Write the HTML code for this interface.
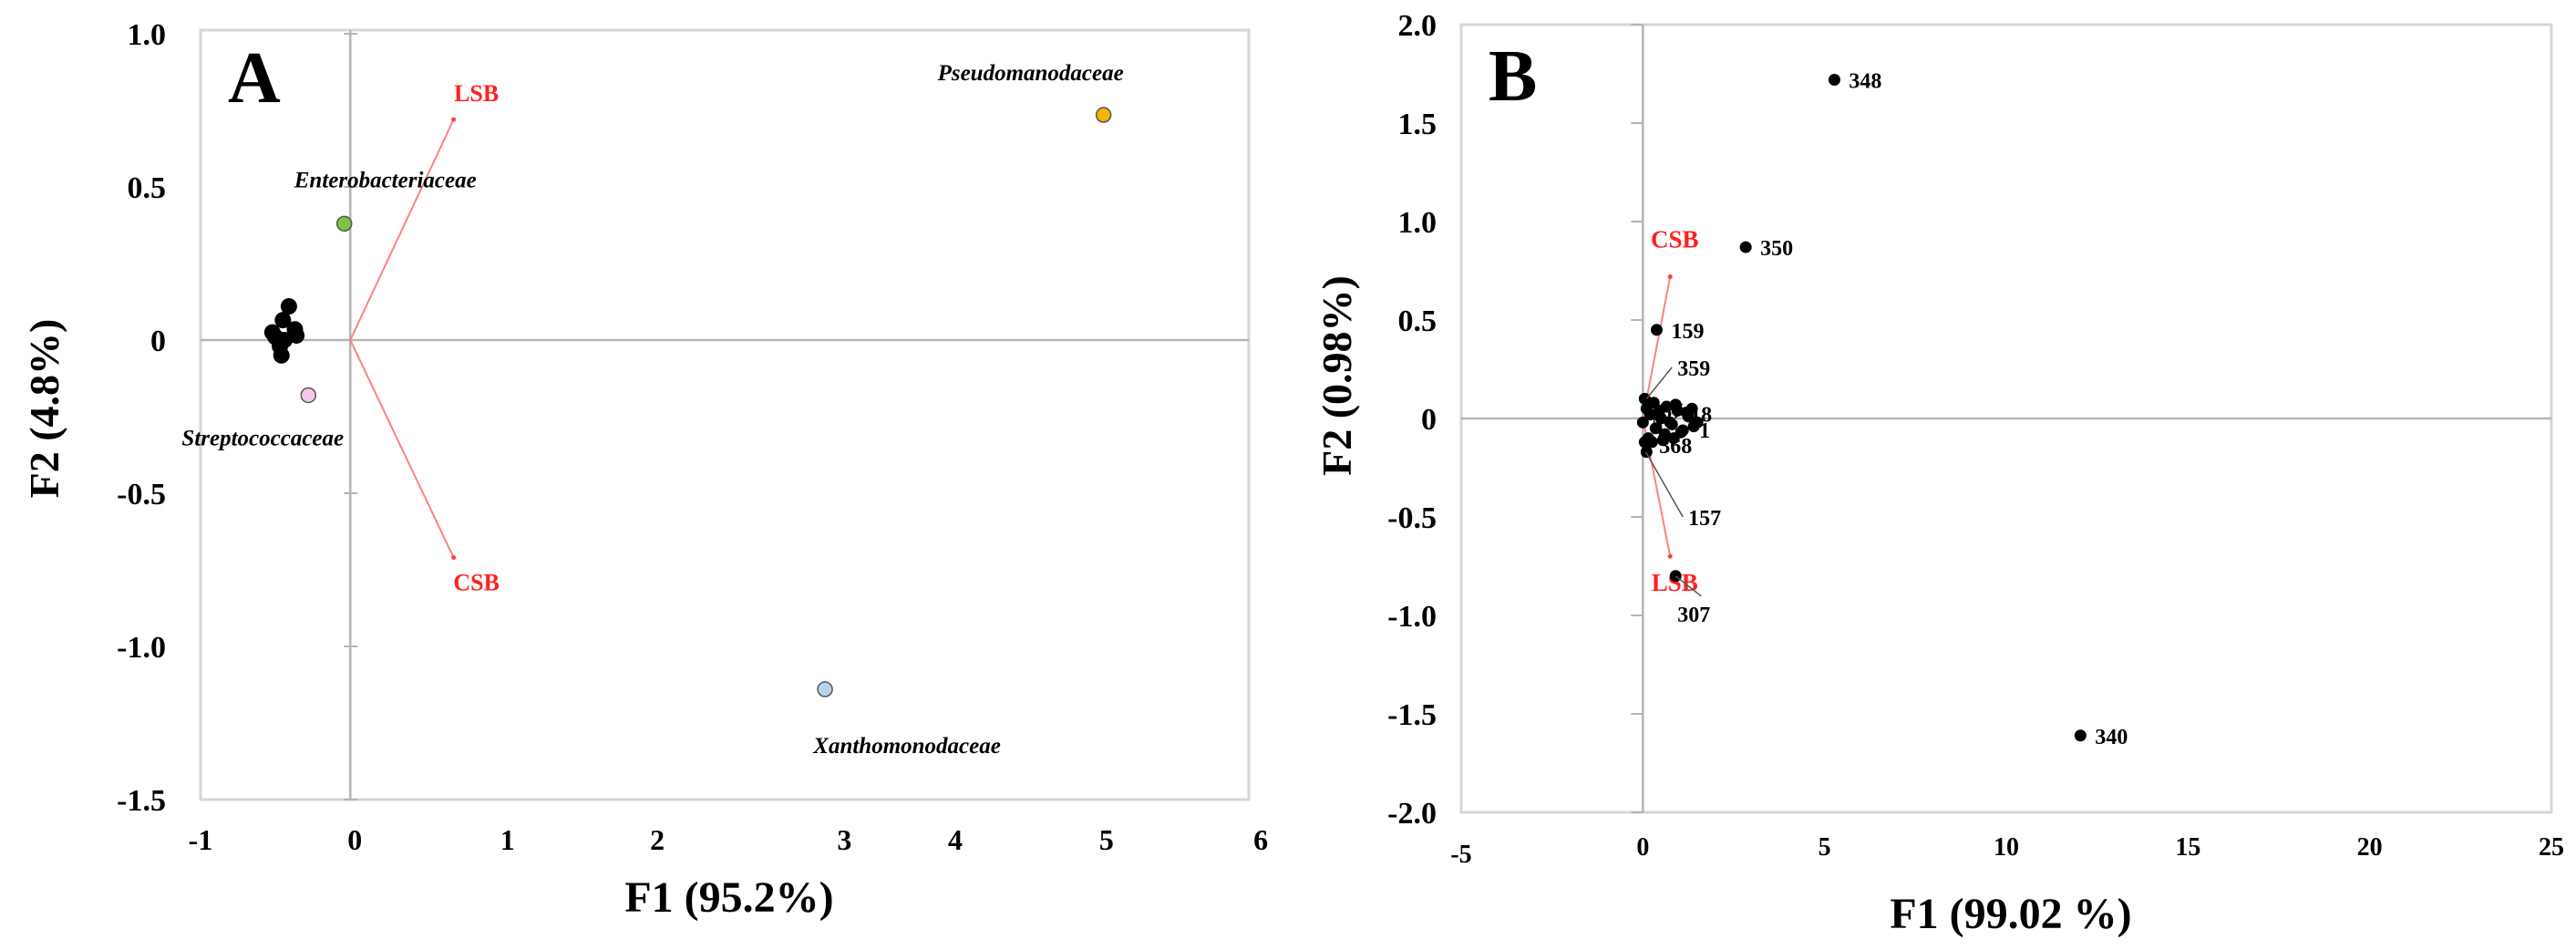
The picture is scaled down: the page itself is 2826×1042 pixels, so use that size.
<!DOCTYPE html>
<html><head><meta charset="utf-8"><style>
html,body{margin:0;padding:0;background:#fff;}
svg{display:block;font-family:"Liberation Serif",serif;}
</style></head><body>
<svg id="fig" width="2826" height="1042" viewBox="0 0 2826 1042" xmlns="http://www.w3.org/2000/svg">
<g id="pa"></g>
<g id="pb"></g>
</svg>
<script>
// ---- Panel A data ----
const aXTicks = [-1, 0, 1, 2, 3, 4, 5, 6];
const aXTickPos = [-1, 0.03, 1.05, 2.05, 3.3, 4.04, 5.05, 6.08];
const aYTicks = [1.0, 0.5, 0, -0.5, -1.0, -1.5];
const aYTickLabels = ["1.0", "0.5", "0", "-0.5", "-1.0", "-1.5"];
const aFamNames = ["Pseudomanodaceae", "Enterobacteriaceae", "Streptococcaceae", "Xanthomonodaceae"];
const aFamX = [5.03, -0.04, -0.28, 3.17];
const aFamY = [0.735, 0.38, -0.18, -1.14];
const aFamColor = ["#f5b400", "#7cc243", "#f5c8f0", "#b8d4ec"];
const aClusterX = [-0.41, -0.45, -0.37, -0.36, -0.5, -0.52, -0.46, -0.47, -0.44];
const aClusterY = [0.11, 0.065, 0.035, 0.015, 0.01, 0.025, -0.05, -0.02, 0.0];
const aVecNames = ["LSB", "CSB"];
const aVecX = [0.69, 0.69];
const aVecY = [0.72, -0.71];

// ---- Panel B data ----
const bXTicks = [-5, 0, 5, 10, 15, 20, 25];
const bYTicks = [2.0, 1.5, 1.0, 0.5, 0, -0.5, -1.0, -1.5, -2.0];
const bYTickLabels = ["2.0", "1.5", "1.0", "0.5", "0", "-0.5", "-1.0", "-1.5", "-2.0"];
const bPtNames = ["348", "350", "159", "340", "307"];
const bPtX = [5.27, 2.83, 0.38, 12.04, 0.9];
const bPtY = [1.72, 0.87, 0.45, -1.61, -0.8];
const bClusterX = [0.05, 0.1, 0.0, 0.2, 0.35, 0.5, 0.65, 0.8, 0.95, 1.1, 1.25, 1.4, 0.3, 0.6, 0.9, 1.2, 0.15, 0.45, 0.75, 1.05, 1.35, 0.05, 0.1, 0.25, 0.55, 0.85, 1.5];
const bClusterY = [0.1, 0.05, -0.02, 0.02, -0.05, 0.0, 0.06, -0.03, 0.04, -0.06, 0.01, -0.04, 0.08, -0.08, 0.07, 0.03, -0.1, 0.04, -0.02, -0.07, 0.05, -0.12, -0.17, -0.12, -0.11, -0.1, -0.02];
const bClusterLabels = ["87", "18", "368", "1", "5"];
const bClusterLabelX = [0.8, 1.6, 0.9, 1.7, 0.4];
const bClusterLabelY = [0.04, 0.02, -0.14, -0.06, -0.03];
const bLeadNames = ["359", "157"];
const bLeadFromX = [0.1, 0.08];
const bLeadFromY = [0.1, -0.17];
const bLeadToX = [0.8, 1.1];
const bLeadToY = [0.26, -0.5];
const bVecNames = ["CSB", "LSB"];
const bVecX = [0.75, 0.75];
const bVecY = [0.72, -0.70];

const NS = "http://www.w3.org/2000/svg";
function mk(parent, tag, attrs, text) {
  const e = document.createElementNS(NS, tag);
  for (const k in attrs) e.setAttribute(k, attrs[k]);
  if (text !== undefined) e.textContent = text;
  parent.appendChild(e);
  return e;
}

// ---------- Panel A ----------
(function () {
  const g = document.getElementById('pa');
  const L = 220, R = 1370, T = 37, B = 877;
  const X = v => L + (v - (-1)) / 7 * (R - L);
  const Y = v => T + (1.0 - v) / 2.5 * (B - T);
  let e;
  e = mk(g, 'rect', {x: L, y: T - 4, width: R - L, height: B - T + 4, fill: 'none', stroke: '#d6d6d6', 'stroke-width': 3});
  
  
  e = mk(g, 'line', {x1: L, x2: R, y1: Y(0), y2: Y(0), stroke: '#b4b4b4', 'stroke-width': 2.5});
  
  
  e = mk(g, 'line', {x1: X(0), x2: X(0), y1: T - 4, y2: B, stroke: '#b4b4b4', 'stroke-width': 2.5});
  
  
  aYTicks.forEach((v, i) => {
    e = mk(g, 'line', {x1: X(0) - 7, x2: X(0) + 8, y1: Y(v), y2: Y(v), stroke: '#b4b4b4', 'stroke-width': 2});
    
    
    e = mk(g, 'text', {x: 182, y: Y(v) + 12, 'text-anchor': 'end', 'font-size': 34, 'font-weight': 'bold'}, aYTickLabels[i]);
    
    
  });
  aXTicks.forEach((v, i) => {
    e = mk(g, 'text', {x: X(aXTickPos[i]), y: 932, 'text-anchor': 'middle', 'font-size': 32, 'font-weight': 'bold'}, String(v));
    
    
  });
  e = mk(g, 'text', {x: 800, y: 1000, 'text-anchor': 'middle', 'font-size': 48, 'font-weight': 'bold'}, 'F1 (95.2%)');
  
  
  e = mk(g, 'text', {x: 0, y: 0, 'text-anchor': 'middle', 'font-size': 46, 'font-weight': 'bold', transform: 'translate(64,448) rotate(-90)'}, 'F2 (4.8%)');
  
  
  e = mk(g, 'text', {x: 250, y: 112, 'font-size': 80, 'font-weight': 'bold'}, 'A');
  
  
  // vectors
  aVecNames.forEach((n, i) => {
    e = mk(g, 'line', {x1: X(0), y1: Y(0), x2: X(aVecX[i]), y2: Y(aVecY[i]), stroke: '#ff8080', 'stroke-width': 2});
    
    
    e = mk(g, 'circle', {cx: X(aVecX[i]), cy: Y(aVecY[i]), r: 2.5, fill: '#ff4040'});
    
    
    const ly = aVecY[i] > 0 ? Y(aVecY[i]) - 20 : Y(aVecY[i]) + 36;
    e = mk(g, 'text', {x: X(aVecX[i]) + 25, y: ly, 'text-anchor': 'middle', 'font-size': 26, 'font-weight': 'bold', fill: '#ff2020'}, n);
    
    
  });
  // cluster
  aClusterX.forEach((v, i) => {
    e = mk(g, 'circle', {cx: X(v), cy: Y(aClusterY[i]), r: 9, fill: '#000'});
    
    
  });
  const offs = [[-80, -38], [45, -40], [-50, 55], [90, 70]];
  aFamNames.forEach((n, i) => {
    e = mk(g, 'circle', {cx: X(aFamX[i]), cy: Y(aFamY[i]), r: 8, fill: aFamColor[i], stroke: '#555', 'stroke-width': 1.5});
    
    
    e = mk(g, 'text', {x: X(aFamX[i]) + offs[i][0], y: Y(aFamY[i]) + offs[i][1], 'text-anchor': 'middle', 'font-size': 25, 'font-weight': 'bold', 'font-style': 'italic'}, n);
    
    
  });
})();

// ---------- Panel B ----------
(function () {
  const g = document.getElementById('pb');
  const L = 1603, R = 2799, T = 27, B = 891;
  const X = v => L + (v - (-5)) / 30 * (R - L);
  const Y = v => T + (2.0 - v) / 4 * (B - T);
  let e;
  e = mk(g, 'rect', {x: L, y: T, width: R - L, height: B - T, fill: 'none', stroke: '#d6d6d6', 'stroke-width': 3});
  
  
  e = mk(g, 'line', {x1: L, x2: R, y1: Y(0), y2: Y(0), stroke: '#b4b4b4', 'stroke-width': 2.5});
  
  
  e = mk(g, 'line', {x1: X(0), x2: X(0), y1: T, y2: B, stroke: '#b4b4b4', 'stroke-width': 2.5});
  
  
  bYTicks.forEach((v, i) => {
    e = mk(g, 'line', {x1: X(0) - 13, x2: X(0), y1: Y(v), y2: Y(v), stroke: '#b4b4b4', 'stroke-width': 2});
    
    
    e = mk(g, 'text', {x: 1576, y: Y(v) + 12, 'text-anchor': 'end', 'font-size': 34, 'font-weight': 'bold'}, bYTickLabels[i]);
    
    
  });
  bXTicks.forEach((v, i) => {
    e = mk(g, 'text', {x: X(v), y: v < 0 ? 946 : 938, 'text-anchor': 'middle', 'font-size': 28, 'font-weight': 'bold'}, String(v));
    
    
  });
  e = mk(g, 'text', {x: 2206, y: 1018, 'text-anchor': 'middle', 'font-size': 48, 'font-weight': 'bold'}, 'F1 (99.02 %)');
  
  
  e = mk(g, 'text', {x: 0, y: 0, 'text-anchor': 'middle', 'font-size': 46, 'font-weight': 'bold', transform: 'translate(1482,412) rotate(-90)'}, 'F2 (0.98%)');
  
  
  e = mk(g, 'text', {x: 1633, y: 110, 'font-size': 80, 'font-weight': 'bold'}, 'B');
  
  
  bVecNames.forEach((n, i) => {
    e = mk(g, 'line', {x1: X(0), y1: Y(0), x2: X(bVecX[i]), y2: Y(bVecY[i]), stroke: '#ff8080', 'stroke-width': 2});
    
    
    e = mk(g, 'circle', {cx: X(bVecX[i]), cy: Y(bVecY[i]), r: 2.5, fill: '#ff4040'});
    
    
    const ly = bVecY[i] > 0 ? Y(bVecY[i]) - 32 : Y(bVecY[i]) + 38;
    e = mk(g, 'text', {x: X(bVecX[i]) + 5, y: ly, 'text-anchor': 'middle', 'font-size': 27, 'font-weight': 'bold', fill: '#ff2020'}, n);
    
    
  });
  bClusterX.forEach((v, i) => {
    e = mk(g, 'circle', {cx: X(v), cy: Y(bClusterY[i]), r: 6.5, fill: '#000'});
    
    
  });
  bClusterLabels.forEach((n, i) => {
    e = mk(g, 'text', {x: X(bClusterLabelX[i]), y: Y(bClusterLabelY[i]) + 8, 'text-anchor': 'middle', 'font-size': 24, 'font-weight': 'bold'}, n);
    
    
  });
  bLeadNames.forEach((n, i) => {
    e = mk(g, 'line', {x1: X(bLeadFromX[i]), y1: Y(bLeadFromY[i]), x2: X(bLeadToX[i]), y2: Y(bLeadToY[i]), stroke: '#555', 'stroke-width': 1.5});
    
    
    e = mk(g, 'text', {x: X(bLeadToX[i]) + 6, y: Y(bLeadToY[i]) + 9, 'font-size': 24, 'font-weight': 'bold'}, n);
    
    
  });
  bPtNames.forEach((n, i) => {
    e = mk(g, 'circle', {cx: X(bPtX[i]), cy: Y(bPtY[i]), r: 6.5, fill: '#000'});
    
    
    let tx = X(bPtX[i]) + 16, ty = Y(bPtY[i]) + 9;
    if (n === '307') {
      e = mk(g, 'line', {x1: X(bPtX[i]), y1: Y(bPtY[i]), x2: X(bPtX[i]) + 28, y2: Y(bPtY[i]) + 22, stroke: '#555', 'stroke-width': 1.5});
      
      
      tx = X(bPtX[i]) + 2; ty = Y(bPtY[i]) + 50;
    }
    e = mk(g, 'text', {x: tx, y: ty, 'font-size': 24, 'font-weight': 'bold'}, n);
    
    
  });
})();
</script>
</body></html>
